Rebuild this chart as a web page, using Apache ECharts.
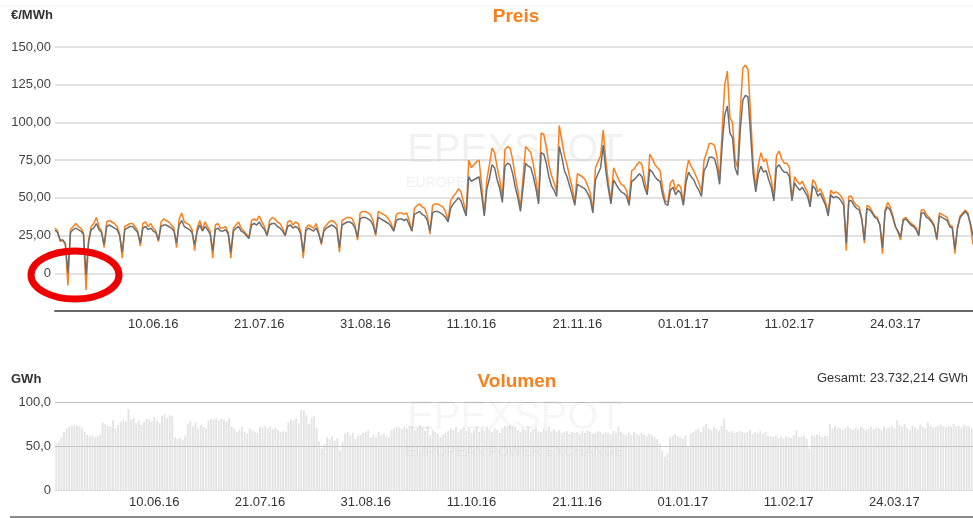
<!DOCTYPE html>
<html>
<head>
<meta charset="utf-8">
<script src="https://cdn.jsdelivr.net/npm/echarts@6/dist/echarts.min.js"></script>
<style>
    html, body { margin: 0; background: #fff; }
    #chart { width: 973px; height: 518px; }
</style>
</head>
<body>
<div id="chart"></div>
<script>
// daily values, first day = Tue 03.05.2016, one row per week (Mon..Sun)
const firstDay = [2016, 4, 3];
const tickLabels = ['10.06.16', '21.07.16', '31.08.16', '11.10.16', '21.11.16', '01.01.17', '11.02.17', '24.03.17'];
const priceTicks = [-25, 150, 25];
const volumeTicks = [0, 100, 50];
const totalText = 'Gesamt: 23.732,214 GWh';

// orange line (€/MWh)
const peakPrice = [
    30, 28, 21, 22, 19, -8,
    29, 31, 33, 31, 30, 27, -11,
    22, 31, 33, 37, 31, 28, 17,
    34, 35, 34, 33, 31, 26, 10,
    31, 32, 33, 33, 31, 28, 18,
    33, 34, 31, 33, 30, 28, 21,
    34, 36, 35, 34, 32, 30, 17,
    36, 40, 34, 33, 32, 29, 15,
    30, 35, 29, 34, 31, 28, 10,
    32, 33, 30, 30, 31, 27, 10,
    30, 32, 34, 30, 28, 26, 24,
    35, 36, 35, 38, 34, 31, 25,
    35, 37, 36, 34, 33, 30, 25,
    34, 35, 32, 34, 33, 28, 10,
    30, 32, 31, 30, 33, 27, 19,
    30, 32, 34, 35, 34, 32, 14,
    35, 36, 37, 37, 36, 32, 22,
    40, 41, 41, 40, 39, 35, 25,
    41, 40, 39, 38, 36, 33, 28,
    39, 40, 40, 39, 40, 35, 28,
    43, 45, 46, 44, 43, 38, 26,
    45, 46, 46, 45, 44, 41, 35,
    48, 51, 53, 56, 54, 47, 40,
    75, 70, 72, 74, 75, 58, 39,
    62, 72, 83, 80, 70, 62, 50,
    82, 84, 83, 75, 64, 55, 43,
    64, 84, 82, 80, 72, 62, 48,
    93, 92, 84, 72, 65, 60, 54,
    98, 88, 78, 72, 64, 57, 47,
    66, 65, 64, 62, 58, 53, 41,
    70, 74, 78, 95, 75, 60, 48,
    70, 66, 62, 59, 58, 55, 47,
    68, 69, 72, 74, 72, 62, 54,
    79, 76, 72, 70, 68, 56, 48,
    47, 60, 62, 55, 59, 57, 47,
    66, 75, 71, 68, 64, 60, 54,
    75, 80, 86, 86, 85, 77, 62,
    95, 125, 134, 103, 100, 76, 70,
    108, 136, 138, 135, 105, 72, 57,
    72, 80, 74, 76, 68, 62, 50,
    78, 81, 76, 73, 73, 70, 49,
    64, 61, 59, 61, 57, 54, 46,
    62, 60, 54, 56, 52, 47, 40,
    55, 53, 54, 53, 51, 48, 15,
    51, 51, 47, 45, 44, 36, 20,
    45, 44, 41, 38, 37, 32, 13,
    42, 47, 44, 38, 31, 27, 22,
    36, 37, 35, 33, 32, 30, 25,
    42, 42, 39, 37, 35, 32, 22,
    40, 39, 38, 37, 32, 31, 13,
    30, 38, 40, 42, 40, 32, 19,
];

// grey line (€/MWh)
const basePrice = [
    28.5, 27, 22, 22, 20, 0,
    27, 29, 30, 29, 28, 26, -1,
    21, 29, 30, 33, 29, 27, 19,
    31, 32, 31, 30, 29, 25, 14,
    29, 30, 31, 31, 29, 27, 20,
    30, 31, 29, 30, 28, 27, 22,
    31, 32, 32, 31, 30, 28, 20,
    32, 35, 31, 30, 29, 27, 19,
    28, 32, 28, 31, 29, 26, 15,
    29, 30, 28, 28, 29, 26, 14,
    28, 30, 31, 28, 27, 25, 23,
    32, 33, 32, 34, 31, 29, 25,
    32, 33, 33, 31, 30, 28, 25,
    31, 32, 30, 31, 30, 26, 14,
    28, 30, 29, 28, 30, 26, 20,
    28, 30, 31, 32, 31, 29, 17,
    32, 33, 34, 34, 33, 30, 24,
    36, 37, 37, 36, 35, 32, 26,
    37, 36, 35, 34, 33, 31, 28,
    35, 36, 36, 35, 36, 32, 28,
    39, 40, 41, 39, 38, 35, 28,
    40, 41, 41, 40, 39, 37, 34,
    43, 46, 48, 50, 48, 43, 38,
    64, 61, 62, 63, 64, 52, 38,
    56, 63, 72, 70, 62, 56, 47,
    71, 73, 72, 66, 57, 50, 41,
    57, 73, 71, 70, 64, 56, 46,
    80, 79, 73, 64, 58, 55, 51,
    84, 77, 68, 64, 58, 52, 45,
    59, 58, 57, 56, 53, 49, 40,
    62, 66, 70, 85, 68, 56, 46,
    62, 59, 56, 54, 53, 51, 45,
    61, 62, 64, 66, 64, 57, 52,
    69, 67, 64, 62, 61, 52, 46,
    45, 55, 57, 52, 55, 53, 45,
    60, 67, 64, 62, 58, 55, 51,
    68, 71, 77, 77, 76, 70, 59,
    85, 105, 111, 93, 90, 70, 65,
    95, 115, 118, 117, 92, 66, 54,
    66, 71, 67, 68, 62, 57, 48,
    70, 72, 69, 67, 67, 64, 48,
    60, 57, 55, 57, 54, 51, 44,
    58, 56, 51, 53, 49, 45, 38,
    52, 50, 51, 50, 48, 45, 20,
    48, 48, 45, 43, 42, 36, 22,
    43, 42, 40, 37, 36, 32, 17,
    41, 44, 42, 37, 31, 28, 24,
    35, 36, 34, 32, 31, 29, 25,
    40, 40, 37, 36, 34, 31, 23,
    38, 37, 36, 35, 31, 30, 16,
    30, 37, 39, 41, 39, 33, 25,
];

// bars (GWh)
const volume = [
    53, 55, 60, 66, 70, 72,
    73, 74, 73, 72, 70, 66, 63,
    61, 62, 60, 61, 63, 77, 75,
    73, 72, 79, 70, 74, 78, 80,
    78, 92, 80, 82, 76, 79, 74,
    77, 81, 80, 78, 83, 79, 76,
    84, 86, 82, 85, 84, 60, 58,
    59, 57, 62, 75, 78, 72, 77,
    70, 74, 72, 70, 79, 81, 80,
    82, 79, 81, 80, 78, 82, 72,
    70, 66, 68, 72, 66, 64, 70,
    68, 66, 65, 72, 71, 73, 70,
    72, 69, 71, 68, 66, 67, 66,
    77, 80, 79, 81, 76, 91, 90,
    85, 75, 82, 84, 70, 55, 47,
    52, 60, 58, 61, 56, 59, 45,
    55, 64, 66, 62, 65, 58, 62,
    63, 65, 66, 68, 60, 63, 60,
    66, 62, 64, 61, 60, 68, 70,
    72, 71, 69, 72, 70, 73, 72,
    68, 70, 74, 71, 67, 72, 62,
    68, 66, 64, 60, 63, 65, 67,
    70, 68, 72, 66, 69, 71, 67,
    70, 65, 68, 72, 66, 70, 67,
    72, 69, 66, 70, 68, 65, 70,
    73, 72, 74, 73, 72, 68, 66,
    70, 68, 72, 66, 69, 71, 67,
    66, 70, 68, 72, 67, 69, 66,
    68, 65, 66, 67, 64, 66, 65,
    66, 64, 67, 65, 68, 66, 64,
    65, 67, 66, 64, 66, 65, 63,
    67, 65, 72, 66, 64, 62, 65,
    63, 66, 64, 62, 65, 63, 61,
    64, 62, 60, 58, 53, 45, 38,
    42, 60, 62, 64, 61, 60, 58,
    62, 49, 64, 66, 68, 70, 66,
    72, 75, 70, 68, 72, 70, 67,
    73, 81, 68, 66, 67, 65, 66,
    67, 66, 65, 66, 68, 64, 66,
    65, 67, 64, 66, 62, 61, 60,
    62, 59, 60, 58, 61, 60, 59,
    62, 68, 60, 61, 62, 58, 47,
    62, 61, 63, 62, 60, 62, 61,
    75, 70, 73, 71, 70, 68, 70,
    72, 70, 68, 71, 69, 72, 70,
    68, 70, 72, 69, 71, 70, 68,
    72, 70, 71, 73, 70, 79, 74,
    72, 75, 70, 68, 73, 71, 69,
    74, 72, 70, 77, 73, 71, 72,
    73, 74, 72, 71, 73, 72, 75,
    72, 73, 71, 74, 73, 72, 70,
];

const pad = (n) => (n < 10 ? '0' : '') + n;
const start = Date.UTC(firstDay[0], firstDay[1], firstDay[2]);
const days = peakPrice.map((_, i) => {
    const d = new Date(start + i * 86400000);
    return pad(d.getUTCDate()) + '.' + pad(d.getUTCMonth() + 1) + '.' + String(d.getUTCFullYear()).slice(2);
});

const font = 'Liberation Sans, Arial, sans-serif';
const orange = '#f7801f';

const xLabel = (margin) => ({
    interval: (idx, val) => tickLabels.includes(val),
    color: '#333',
    fontSize: 13,
    fontFamily: font,
    margin: margin,
});

const myChart = echarts.init(document.getElementById('chart'));
myChart.setOption({
    animation: false,
    grid: [
        { left: 55, right: 0, top: 47, height: 264 },
        { left: 55, right: 0, top: 402, height: 88 },
    ],
    xAxis: [
        {
            gridIndex: 0,
            type: 'category',
            data: days,
            boundaryGap: false,
            z: 5,
            axisLine: { onZero: false, lineStyle: { color: '#666', width: 2 } },
            axisTick: { show: false },
            axisLabel: xLabel(7),
            splitLine: { show: false },
        },
        {
            gridIndex: 1,
            type: 'category',
            data: days,
            z: 5,
            axisLine: { onZero: false, lineStyle: { color: '#dcdcdc', width: 1 } },
            axisTick: { show: false },
            axisLabel: xLabel(6),
            splitLine: { show: false },
        },
    ],
    yAxis: [
        {
            gridIndex: 0,
            type: 'value',
            min: priceTicks[0],
            max: priceTicks[1],
            interval: priceTicks[2],
            axisLine: { show: false },
            axisTick: { show: false },
            axisLabel: {
                color: '#444',
                fontSize: 13,
                fontFamily: font,
                margin: 4,
                formatter(val) {
                    if (val < 0) return '';
                    if (val === 0) return '0';
                    return val.toFixed(2).replace('.', ',');
                },
            },
            splitLine: { lineStyle: { color: '#d8d8d8', width: 1.5 } },
        },
        {
            gridIndex: 1,
            type: 'value',
            min: volumeTicks[0],
            max: volumeTicks[1],
            interval: volumeTicks[2],
            z: 4,
            axisLine: { show: false },
            axisTick: { show: false },
            axisLabel: {
                color: '#444',
                fontSize: 13,
                fontFamily: font,
                margin: 4,
                formatter(val) {
                    return val === 0 ? '0' : val.toFixed(1).replace('.', ',');
                },
            },
            splitLine: {
                lineStyle: { color: '#c4c4c4', width: 1 },
            },
        },
    ],
    graphic: [
        { type: 'line', shape: { x1: 0, y1: 6, x2: 973, y2: 6 }, style: { stroke: '#f4f4f4', lineWidth: 1 } },
        { type: 'line', shape: { x1: 10, y1: 517, x2: 973, y2: 517 }, style: { stroke: '#8a8a8a', lineWidth: 2 } },
        { type: 'text', x: 516, y: 17, style: { text: 'Preis', fill: orange, font: 'bold 19px ' + font, textAlign: 'center', textVerticalAlign: 'middle' } },
        { type: 'text', x: 11, y: 15, style: { text: '€/MWh', fill: '#333', font: 'bold 13px ' + font, textVerticalAlign: 'middle' } },
        { type: 'text', x: 517, y: 382, style: { text: 'Volumen', fill: orange, font: 'bold 19px ' + font, textAlign: 'center', textVerticalAlign: 'middle' } },
        { type: 'text', x: 11, y: 379, style: { text: 'GWh', fill: '#333', font: 'bold 13px ' + font, textVerticalAlign: 'middle' } },
        { type: 'text', x: 968, y: 378, style: { text: totalText, fill: '#333', font: '13px ' + font, textAlign: 'right', textVerticalAlign: 'middle' } },
        // faint watermarks
        { type: 'text', x: 515, y: 151, z: -1, style: { text: 'EPEXSPOT', fill: '#f1f1f1', font: '40px ' + font, textAlign: 'center', textVerticalAlign: 'middle' } },
        { type: 'text', x: 515, y: 183, z: -1, style: { text: 'EUROPEAN POWER EXCHANGE', fill: '#f1f1f1', font: '14px ' + font, textAlign: 'center', textVerticalAlign: 'middle' } },
        { type: 'text', x: 515, y: 418, z: 10, style: { text: 'EPEXSPOT', fill: 'rgba(0,0,0,0.035)', font: '40px ' + font, textAlign: 'center', textVerticalAlign: 'middle' } },
        { type: 'text', x: 515, y: 452, z: 10, style: { text: 'EUROPEAN POWER EXCHANGE', fill: 'rgba(0,0,0,0.035)', font: '14px ' + font, textAlign: 'center', textVerticalAlign: 'middle' } },
        // red marker round the negative prices
        { type: 'ellipse', z: 20, shape: { cx: 75, cy: 275, rx: 44, ry: 24 }, style: { fill: 'none', stroke: '#ee0000', lineWidth: 7 } },
    ],
    series: [
        {
            type: 'line',
            xAxisIndex: 0,
            yAxisIndex: 0,
            data: peakPrice,
            symbol: 'none',
            color: orange,
            lineStyle: { width: 1.5 },
        },
        {
            type: 'line',
            xAxisIndex: 0,
            yAxisIndex: 0,
            data: basePrice,
            symbol: 'none',
            color: '#6e6e6e',
            lineStyle: { width: 1.5 },
        },
        {
            type: 'bar',
            xAxisIndex: 1,
            yAxisIndex: 1,
            data: volume,
            color: '#e4e4e4',
            barCategoryGap: '25%',
        },
    ],
});
</script>
</body>
</html>
